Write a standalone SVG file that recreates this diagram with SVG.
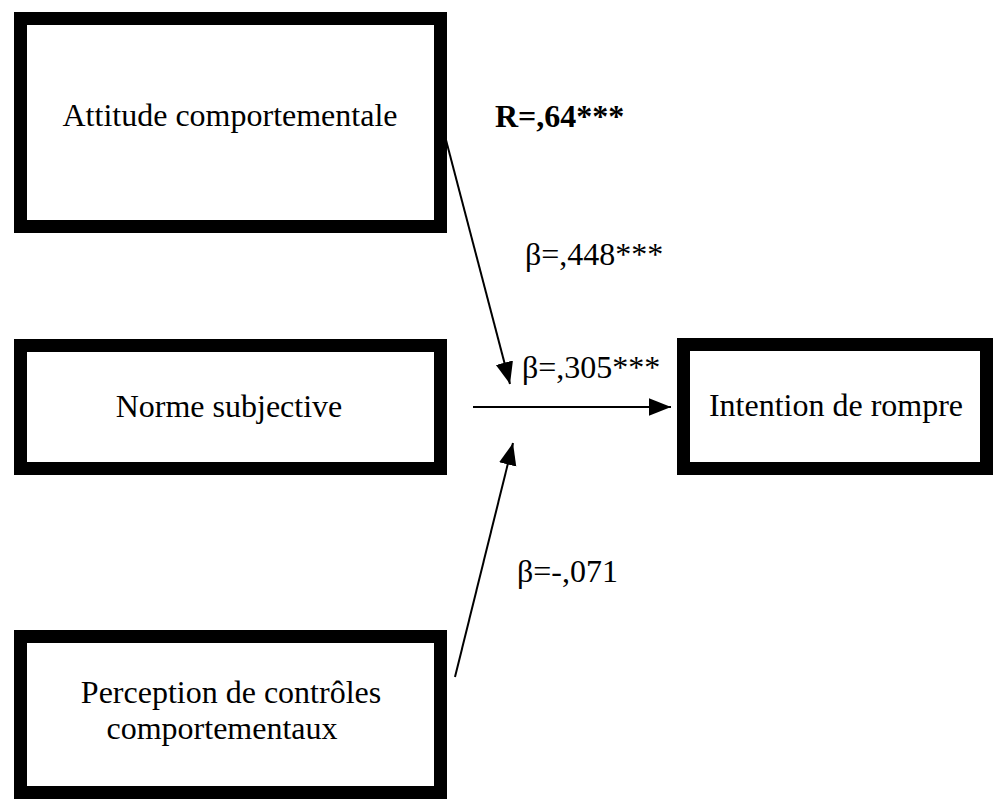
<svg xmlns="http://www.w3.org/2000/svg" width="1000" height="799" viewBox="0 0 1000 799">
<style>
.box{fill:#fff;stroke:#000;stroke-width:13}
.t{font-family:"Liberation Serif",serif;font-size:32px;fill:#000;text-anchor:middle}
.lbl{font-family:"Liberation Serif",serif;font-size:32px;fill:#000}
.b{font-weight:bold}
.c{stroke:#000;stroke-width:2;fill:none}
</style>
<defs>
<marker id="ah2" viewBox="0 0 20 16" refX="20" refY="8" markerWidth="22" markerHeight="19" markerUnits="userSpaceOnUse" orient="auto"><path d="M0,0 L20,8 L0,16 z" fill="#000"/></marker>
</defs>
<rect width="1000" height="799" fill="#fff"/>
<g id="n-attitude">
<rect class="box" x="20.5" y="18.5" width="420" height="208"/>
<text class="t" x="230" y="126">Attitude comportementale</text>
</g>
<g id="n-norme">
<rect class="box" x="20.5" y="345.5" width="420" height="123"/>
<text class="t" x="229" y="417">Norme subjective</text>
</g>
<g id="n-intention">
<rect class="box" x="683.5" y="344.5" width="303" height="124"/>
<text class="t" x="836" y="416">Intention de rompre</text>
</g>
<g id="n-perception">
<rect class="box" x="20.5" y="636.5" width="420" height="156"/>
<text class="t" x="231" y="703">Perception de contrôles</text>
<text class="t" x="222" y="739">comportementaux</text>
</g>
<g id="connectors">
<line class="c" x1="446" y1="140" x2="510" y2="384" marker-end="url(#ah2)"/>
<line class="c" x1="473" y1="407" x2="671" y2="407" marker-end="url(#ah2)"/>
<line class="c" x1="455" y1="677" x2="513" y2="443" marker-end="url(#ah2)"/>
</g>
<g id="labels">
<text class="lbl b" x="495" y="127">R=,64***</text>
<text class="lbl" x="525" y="265">β=,448***</text>
<text class="lbl" x="522" y="378">β=,305***</text>
<text class="lbl" x="517" y="582">β=-,071</text>
</g>
</svg>
